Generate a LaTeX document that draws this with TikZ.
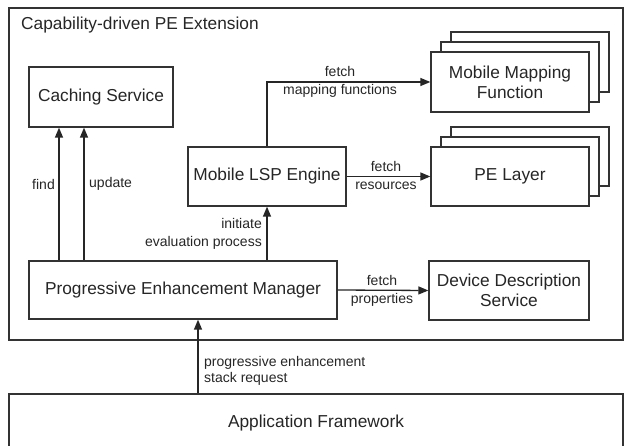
\documentclass[tikz,border=0pt]{standalone}
\usepackage{fontspec}
\setmainfont{Liberation Sans}
\usetikzlibrary{arrows.meta}
\begin{document}
\begin{tikzpicture}[x=1pt,y=-1pt,
  box/.style={draw=black!80, line width=1.3pt, fill=white, text=black!85,
    font=\fontsize{17.3}{20}\selectfont, align=center, inner sep=0pt},
  lbl/.style={text=black!85, font=\fontsize{14}{18}\selectfont, inner sep=0pt},
  arr/.style={draw=black!85, line width=1.3pt, -{Triangle[length=10pt,width=8pt]}},
]
\useasboundingbox (0,0) rectangle (624,446);
\clip (0,0) rectangle (624,446);

% outer frame
\node[box, minimum width=614, minimum height=332] (ext) at (316,174) {};
\node[text=black!85, font=\fontsize{17.3}{20}\selectfont, inner sep=0pt, anchor=west] (exttitle) at (21,25) {Capability-driven PE Extension};

% application framework
\node[box, minimum width=614, minimum height=58] (app) at (316,423) {Application Framework};

% boxes
\node[box, minimum width=144, minimum height=60] (cache) at (101,97) {Caching Service};
\node[box, minimum width=158, minimum height=59] (lsp) at (267,176.5) {Mobile LSP Engine};

\node[box, minimum width=158, minimum height=60] (mmf3) at (530,62) {};
\node[box, minimum width=158, minimum height=60] (mmf2) at (520,72) {};
\node[box, minimum width=158, minimum height=60] (mmf) at (510,82) {Mobile Mapping\\Function};

\node[box, minimum width=158, minimum height=59] (pel3) at (530,156.5) {};
\node[box, minimum width=158, minimum height=59] (pel2) at (520,166.5) {};
\node[box, minimum width=158, minimum height=59] (pel) at (510,176.5) {PE Layer};

\node[box, minimum width=308, minimum height=58] (pem) at (183,290) {Progressive Enhancement Manager};
\node[box, minimum width=160, minimum height=59] (dds) at (509,290.5) {Device Description\\Service};

% connectors
\coordinate (xf) at (59,0);
\coordinate (xu) at (84,0);
\coordinate (xs) at (198,0);
\draw[arr] (xf |- pem.north) -- (xf |- cache.south);
\draw[arr] (xu |- pem.north) -- (xu |- cache.south);
\draw[arr] (lsp.north) |- (mmf.west);
\draw[arr] (lsp.east) -- (pel.west);
\draw[arr] (pem.north -| lsp.south) -- (lsp.south);
\draw[arr] (pem.east) -- (dds.west);
\draw[arr] (xs |- app.north) -- (xs |- pem.south);

% labels
\node[lbl, anchor=east] (lfind) at (55,184) {find};
\node[lbl, anchor=west] (lupd) at (89,184) {update};
\node[lbl, align=center] (lmap) at (340,81.5) {fetch\\mapping functions};
\node[lbl, align=center] (lres) at (386,175) {fetch\\resources};
\node[lbl, align=right, anchor=east] (linit) at (262,233.5) {initiate\\evaluation process};
\node[lbl, align=center] (lprop) at (382,290.5) {fetch\\properties};
\node[lbl, align=left, anchor=west, font=\fontsize{14}{16}\selectfont] (lreq) at (204,370.5) {progressive enhancement\\stack request};
\end{tikzpicture}
\end{document}
